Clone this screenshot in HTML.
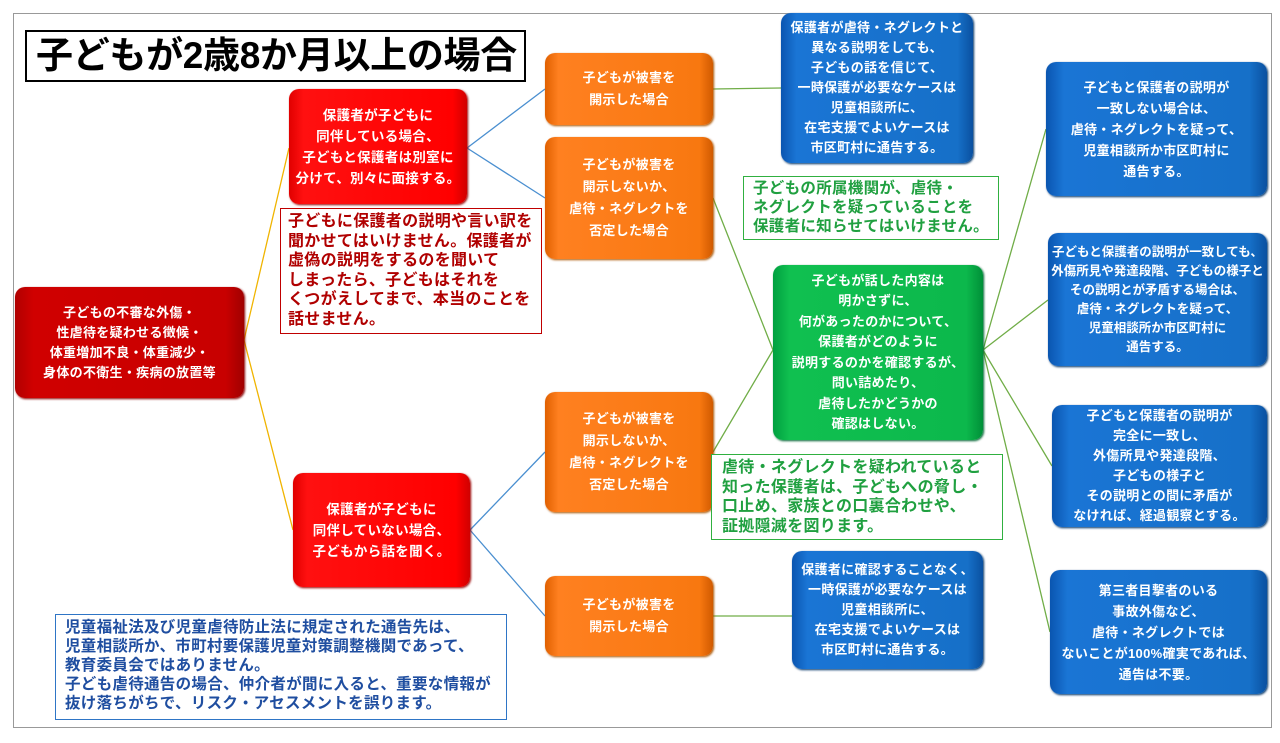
<!DOCTYPE html>
<html><head><meta charset="utf-8"><style>
*{margin:0;padding:0;box-sizing:border-box}
body{width:1280px;height:743px;background:#fff;position:relative;overflow:hidden;font-family:"Liberation Sans","Noto Sans CJK JP",sans-serif}
.frame{position:absolute;left:13px;top:13px;width:1259px;height:715px;border:1px solid #999}
.b{position:absolute;border-radius:10px;color:#fff;font-size:13px;line-height:20px;text-align:center;display:flex;align-items:center;justify-content:center;font-weight:bold;letter-spacing:0.3px}
.dr{background:linear-gradient(90deg,#b00000,#d00000 8%,#c80000 92%,#a00000);box-shadow:1px 1px 2px #800}
.r{background:linear-gradient(90deg,#e00000,#ff1010 8%,#ff0000 92%,#d00000);box-shadow:1px 1px 2px #900}
.o{background:linear-gradient(90deg,#e06000,#ff8020 8%,#f87810 92%,#d05a00);box-shadow:1px 1px 2px #a50}
.bl{background:linear-gradient(90deg,#0a55b0,#1a75d5 8%,#1670c8 92%,#0a50a0);box-shadow:1px 1px 2px #036}
.g{background:linear-gradient(90deg,#00a040,#10c050 8%,#0cb84c 92%,#009038);box-shadow:1px 1px 2px #063}
.n{position:absolute;background:#fff;font-weight:bold;line-height:19.5px;padding:3px 7px;white-space:nowrap;letter-spacing:0.3px}
</style></head><body>
<div class="frame"></div>
<svg width="1280" height="743" style="position:absolute;left:0;top:0">
<g stroke="#f0b400" stroke-width="1.3" fill="none"><path d="M244 340L289 148M244 340L293 530"/></g>
<g stroke="#4a8fd0" stroke-width="1.3" fill="none"><path d="M467 148L545 89M467 148L545 198M470 530L545 452M470 530L545 616"/></g>
<g stroke="#70ad47" stroke-width="1.3" fill="none"><path d="M713 89L781 88M713 198L773 350M713 452L773 350M713 616L792 616M983 350L1046 129M983 350L1048 300M983 350L1052 466M983 350L1050 632"/></g>
</svg>
<div style="position:absolute;left:25px;top:30px;width:501px;height:52px;border:2px solid #000;font-size:37px;font-weight:bold;line-height:48px;padding-left:9px;letter-spacing:-0.3px;white-space:nowrap">子どもが2歳8か月以上の場合</div>
<div class="b dr" style="left:15px;top:287px;width:229px;height:111px">子どもの不審な外傷・<br>性虐待を疑わせる徴候・<br>体重増加不良・体重減少・<br>身体の不衛生・疾病の放置等</div>
<div class="b r" style="left:289px;top:89px;width:178px;height:115px;font-size:13.5px;line-height:21px">保護者が子どもに<br>同伴している場合、<br>子どもと保護者は別室に<br>分けて、別々に面接する。</div>
<div class="n" style="left:280px;top:208px;width:262px;height:126px;border:1.5px solid #c00000;color:#b00000;font-size:16px">子どもに保護者の説明や言い訳を<br>聞かせてはいけません。保護者が<br>虚偽の説明をするのを聞いて<br>しまったら、子どもはそれを<br>くつがえしてまで、本当のことを<br>話せません。</div>
<div class="b r" style="left:293px;top:473px;width:177px;height:114px;font-size:13.5px;line-height:21px">保護者が子どもに<br>同伴していない場合、<br>子どもから話を聞く。</div>
<div class="b o" style="left:545px;top:53px;width:168px;height:72px;line-height:22px">子どもが被害を<br>開示した場合</div>
<div class="b o" style="left:545px;top:137px;width:168px;height:122px;line-height:22px">子どもが被害を<br>開示しないか、<br>虐待・ネグレクトを<br>否定した場合</div>
<div class="b o" style="left:545px;top:392px;width:168px;height:120px;line-height:22px">子どもが被害を<br>開示しないか、<br>虐待・ネグレクトを<br>否定した場合</div>
<div class="b o" style="left:545px;top:576px;width:168px;height:80px;line-height:22px">子どもが被害を<br>開示した場合</div>
<div class="b bl" style="left:781px;top:13px;width:192px;height:150px">保護者が虐待・ネグレクトと<br>異なる説明をしても、<br>子どもの話を信じて、<br>一時保護が必要なケースは<br>児童相談所に、<br>在宅支援でよいケースは<br>市区町村に通告する。</div>
<div class="n" style="left:743px;top:176px;width:256px;height:64px;border:1.5px solid #30b040;color:#20a040;font-size:15.5px;line-height:19px;padding:2px 9px">子どもの所属機関が、虐待・<br>ネグレクトを疑っていることを<br>保護者に知らせてはいけません。</div>
<div class="b g" style="left:773px;top:265px;width:210px;height:175px;line-height:20.5px">子どもが話した内容は<br>明かさずに、<br>何があったのかについて、<br>保護者がどのように<br>説明するのかを確認するが、<br>問い詰めたり、<br>虐待したかどうかの<br>確認はしない。</div>
<div class="n" style="left:711px;top:454px;width:292px;height:86px;border:1.5px solid #30b040;color:#20a040;font-size:16px;line-height:19.5px;padding:3px 10px">虐待・ネグレクトを疑われていると<br>知った保護者は、子どもへの脅し・<br>口止め、家族との口裏合わせや、<br>証拠隠滅を図ります。</div>
<div class="b bl" style="left:792px;top:551px;width:191px;height:118px">保護者に確認することなく、<br>一時保護が必要なケースは<br>児童相談所に、<br>在宅支援でよいケースは<br>市区町村に通告する。</div>
<div class="b bl" style="left:1046px;top:62px;width:221px;height:134px;line-height:21px">子どもと保護者の説明が<br>一致しない場合は、<br>虐待・ネグレクトを疑って、<br>児童相談所か市区町村に<br>通告する。</div>
<div class="b bl" style="left:1048px;top:233px;width:219px;height:133px;line-height:19px;font-size:12.5px;letter-spacing:0">子どもと保護者の説明が一致しても、<br>外傷所見や発達段階、子どもの様子と<br>その説明とが矛盾する場合は、<br>虐待・ネグレクトを疑って、<br>児童相談所か市区町村に<br>通告する。</div>
<div class="b bl" style="left:1052px;top:405px;width:215px;height:122px">子どもと保護者の説明が<br>完全に一致し、<br>外傷所見や発達段階、<br>子どもの様子と<br>その説明との間に矛盾が<br>なければ、経過観察とする。</div>
<div class="b bl" style="left:1050px;top:570px;width:217px;height:124px;line-height:21px">第三者目撃者のいる<br>事故外傷など、<br>虐待・ネグレクトでは<br>ないことが100%確実であれば、<br>通告は不要。</div>
<div class="n" style="left:55px;top:614px;width:452px;height:106px;border:1.5px solid #2e75c6;color:#1f4ea0;font-size:15.5px;line-height:19px;padding:3px 9px">児童福祉法及び児童虐待防止法に規定された通告先は、<br>児童相談所か、市町村要保護児童対策調整機関であって、<br>教育委員会ではありません。<br>子ども虐待通告の場合、仲介者が間に入ると、重要な情報が<br>抜け落ちがちで、リスク・アセスメントを誤ります。</div>
</body></html>
